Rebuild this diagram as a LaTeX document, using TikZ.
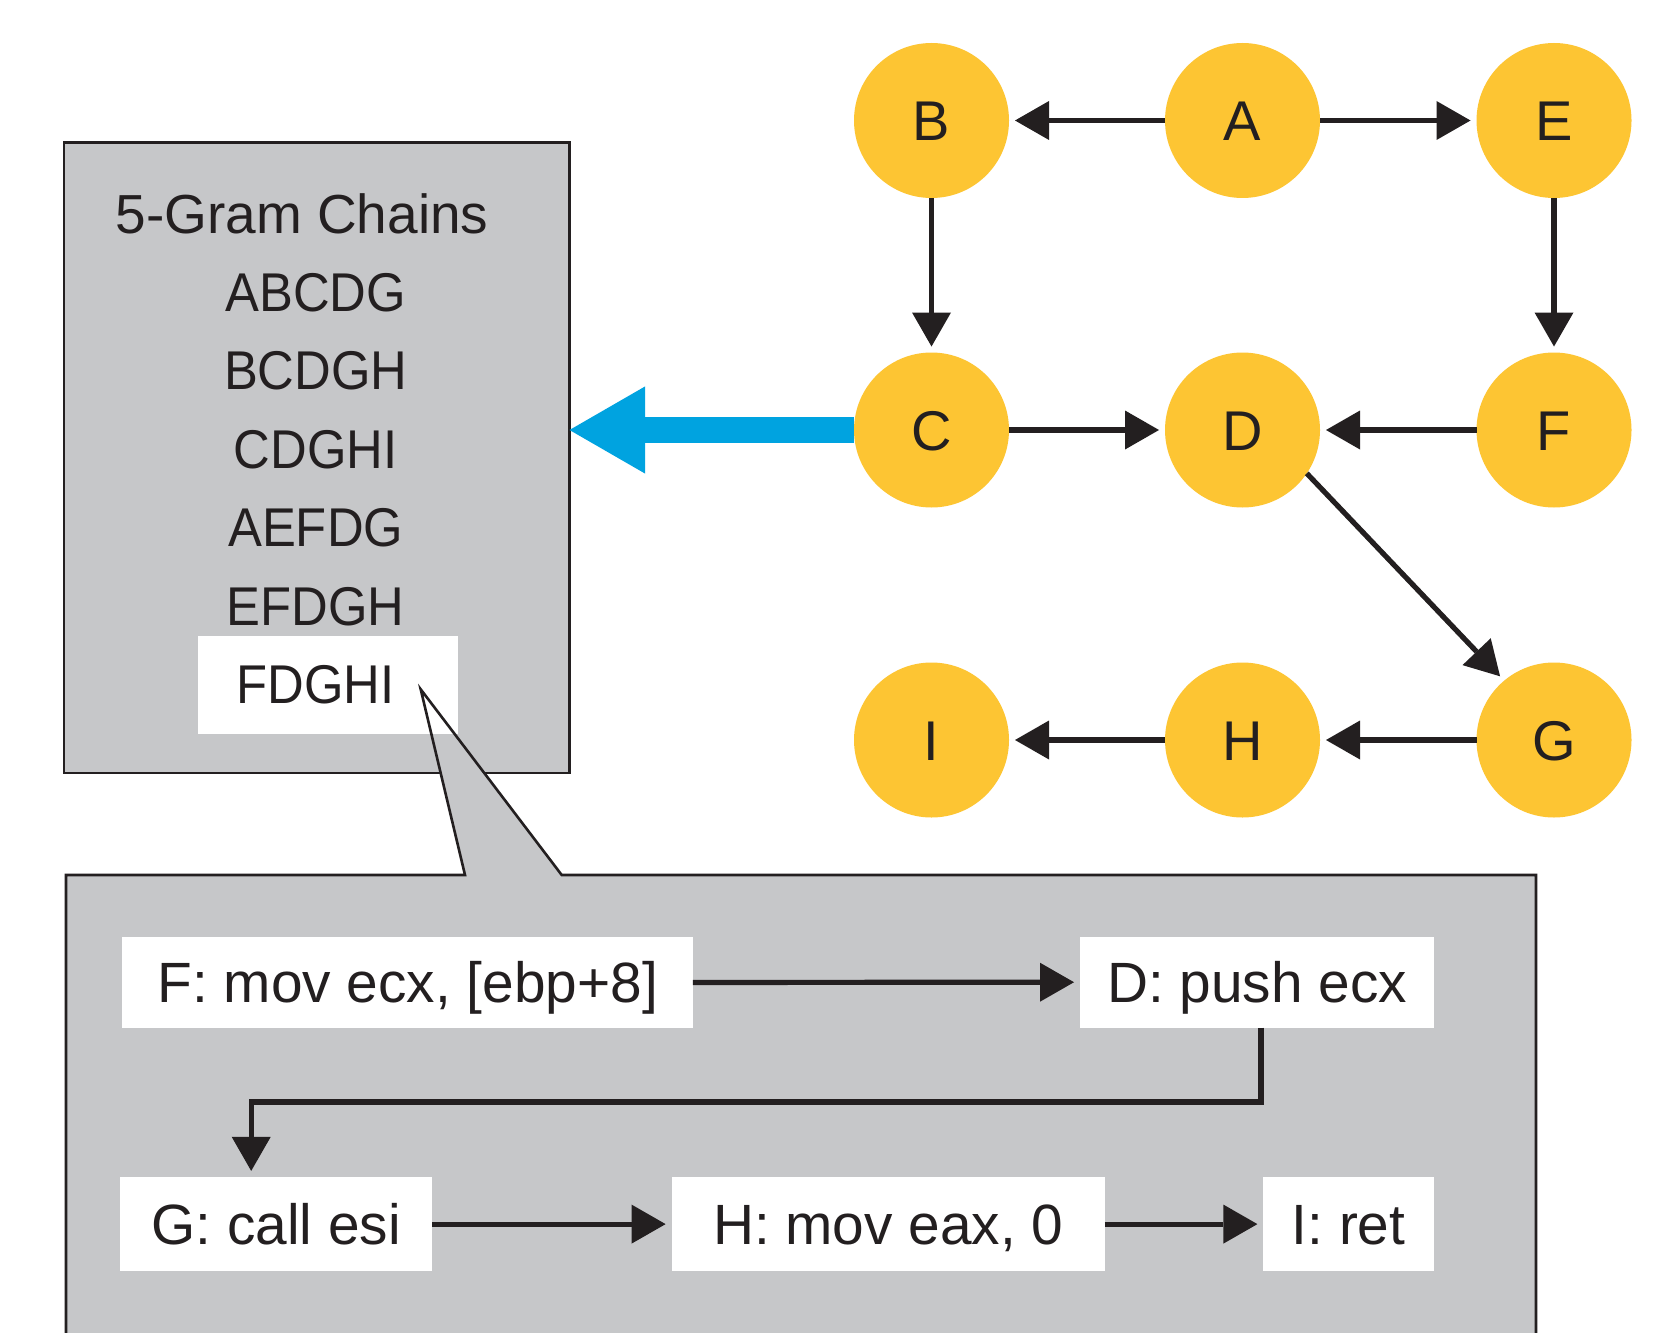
\documentclass[tikz,border=0pt]{standalone}
\usepackage{fontspec}
\setmainfont{Liberation Sans}
\newfontfamily\chainfont{Liberation Sans}[FakeStretch=0.93]
\usetikzlibrary{arrows.meta}
\definecolor{ink}{HTML}{231F20}
\definecolor{gold}{HTML}{FDC533}
\definecolor{panel}{HTML}{C6C7C9}
\definecolor{sky}{HTML}{00A3E0}
\begin{document}
\begin{tikzpicture}[x=0.5pt,y=-0.5pt,
  vertex/.style={circle, fill=gold, minimum size=77.5pt, inner sep=0pt, outer sep=0pt,
    text=ink, font=\fontsize{28}{28}\selectfont, text height=20pt, text depth=0pt},
  arr/.style={draw=ink, line width=2.6pt, line join=miter, shorten >=3pt,
    -{Triangle[length=17pt, width=19.5pt, line width=0pt]}},
  codebox/.style={fill=white, inner sep=0pt, outer sep=0pt, text=ink,
    font=\fontsize{28.4}{28.4}\selectfont, text height=20pt, text depth=0pt},
  chain/.style={anchor=base, inner sep=0pt, text=ink, font=\chainfont\fontsize{27.3}{27.3}\selectfont},
  frame/.style={draw=ink, line width=1.3pt},
]
\clip (0,0) rectangle (1669,1332);
\fill[white] (0,0) rectangle (1669,1332);

% panel listing the 5-gram chains
\node[frame, fill=panel, inner sep=0pt, outer sep=0pt,
  minimum width=252.8pt, minimum height=315pt] (chainbox) at (316.7,457.8) {};

% callout panel with the expanded chain
\coordinate (tip) at (420.7,689.3);
\coordinate (bl) at (465,875);
\coordinate (br) at (561.7,875);
\fill[panel] (66,1400) -- (66,875) -- (bl) -- (tip) -- (br) -- (1536,875) -- (1536,1400) -- cycle;
\node[fill=white, inner sep=0pt, outer sep=0pt, minimum width=130pt, minimum height=48.8pt]
  (fdghibox) at (328,684.8) {};
\draw[frame, line join=miter] (66,1400) -- (66,875) -- (bl) -- (tip) -- (br) -- (1536,875) -- (1536,1400);

% chain list
\node[chain, font=\fontsize{27.5}{27.5}\selectfont] (title) at (302,234) {5-Gram Chains};
\node[chain] (c1) at (315.7,311) {ABCDG};
\node[chain] (c2) at (315.7,389.5) {BCDGH};
\node[chain] (c3) at (315.7,468) {CDGHI};
\node[chain] (c4) at (315.7,546.5) {AEFDG};
\node[chain] (c5) at (315.7,625) {EFDGH};
\node[chain] (c6) at (315.7,703) {FDGHI};

% control-flow graph
\node[vertex] (B) at (931.5,120.5) {B};
\node[vertex] (A) at (1242.5,120.5) {A};
\node[vertex] (E) at (1554,120.5) {E};
\node[vertex] (C) at (931.5,430) {C};
\node[vertex] (D) at (1242.5,430) {D};
\node[vertex] (F) at (1554,430) {F};
\node[vertex] (I) at (931.5,740) {I};
\node[vertex] (H) at (1242.5,740) {H};
\node[vertex] (G) at (1554,740) {G};

\draw[arr] (A.west) -- (B.east);
\draw[arr] (A.east) -- (E.west);
\draw[arr] (B.south) -- (C.north);
\draw[arr] (E.south) -- (F.north);
\draw[arr] (C.east) -- (D.west);
\draw[arr] (F.west) -- (D.east);
\draw[arr] (D.-34) -- (G.130);
\draw[arr] (G.west) -- (H.east);
\draw[arr] (H.west) -- (I.east);

% extraction arrow
\draw[sky, line width=13.35pt, -{Triangle[length=37.85pt, width=43.65pt, line width=0pt]}]
  (C.west) -- (chainbox.east |- C.west);

% instruction sequence
\node[codebox, minimum width=285.25pt, minimum height=45.75pt] (Fbox) at (407.65,982.45) {F: mov ecx, [ebp+8]};
\node[codebox, minimum width=177pt, minimum height=45.5pt] (Dbox) at (1257,982.2) {D: push ecx};
\node[codebox, minimum width=155.9pt, minimum height=47.2pt] (Gbox) at (276.2,1224.1) {G: call esi};
\node[codebox, minimum width=216.6pt, minimum height=47.2pt] (Hbox) at (888.2,1224.1) {H: mov eax, 0};
\node[codebox, minimum width=85.15pt, minimum height=47.2pt] (Ibox) at (1348.55,1224.1) {I: ret};

\coordinate (bend) at (251.2,1102);
\draw[arr] (Fbox.east) -- (Dbox.west);
\draw[arr] ([xshift=2pt]Dbox.south) |- (bend) -- (bend |- Gbox.north);
\draw[arr] (Gbox.east) -- (Hbox.west);
\draw[arr] (Hbox.east) -- (Ibox.west);
\end{tikzpicture}
\end{document}
